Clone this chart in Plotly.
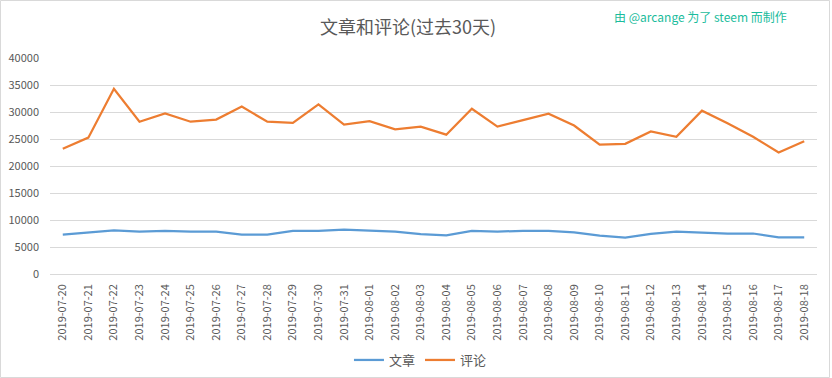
import plotly.graph_objects as go

dates = ["2019-07-20", "2019-07-21", "2019-07-22", "2019-07-23", "2019-07-24", "2019-07-25",
         "2019-07-26", "2019-07-27", "2019-07-28", "2019-07-29", "2019-07-30", "2019-07-31",
         "2019-08-01", "2019-08-02", "2019-08-03", "2019-08-04", "2019-08-05", "2019-08-06",
         "2019-08-07", "2019-08-08", "2019-08-09", "2019-08-10", "2019-08-11", "2019-08-12",
         "2019-08-13", "2019-08-14", "2019-08-15", "2019-08-16", "2019-08-17", "2019-08-18"]

posts = [7300, 7700, 8100, 7850, 8000, 7850, 7850, 7300, 7300, 8000, 8000, 8200,
         8000, 7850, 7400, 7150, 8000, 7850, 8000, 8000, 7700, 7100, 6750, 7450,
         7850, 7700, 7500, 7500, 6800, 6800]

comments = [23200, 25250, 34300, 28200, 29750, 28200, 28600, 31000, 28200, 28000, 31400, 27650,
            28300, 26800, 27300, 25800, 30600, 27300, 28500, 29700, 27500, 23950, 24100, 26400,
            25400, 30250, 27900, 25400, 22500, 24600]

series_names = ["文章", "评论"]
title_text = "文章和评论(过去30天)"
credit_text = "由 @arcange 为了 steem 而制作"

FONT = "Noto Sans CJK SC, Open Sans, sans-serif"

fig = go.Figure()
fig.add_trace(go.Scatter(x=dates, y=posts, name=series_names[0], mode="lines",
                         line=dict(color="#5B9BD5", width=2.25)))
fig.add_trace(go.Scatter(x=dates, y=comments, name=series_names[1], mode="lines",
                         line=dict(color="#ED7D31", width=2.25)))

L, R, T, B = 50, 15, 58, 104
W, H = 832, 378
pw, ph = W - L - R, H - T - B

fig.update_layout(
    width=W, height=H, autosize=False,
    margin=dict(l=L, r=R, t=T, b=B, autoexpand=False),
    paper_bgcolor="white", plot_bgcolor="white",
    font=dict(family=FONT, color="#595959", size=11),
    title=dict(text=title_text, x=408 / W, xanchor="center",
               y=1 - 28 / H, yref="container", yanchor="middle",
               font=dict(size=18, color="#595959", family=FONT)),
    showlegend=True,
    legend=dict(orientation="h", x=0.483, xanchor="center", y=(274 - 360) / ph, yanchor="middle",
                font=dict(size=13, color="#595959", family=FONT), bgcolor="rgba(0,0,0,0)"),
    xaxis=dict(type="category", range=[-0.5, len(dates) - 0.5], tickangle=-90,
               showgrid=False, showline=False, ticks="", automargin=False,
               tickfont=dict(size=11, color="#595959"), ticklabelstandoff=7),
    yaxis=dict(range=[0, 40000], dtick=5000, showgrid=True, gridcolor="#D9D9D9", gridwidth=1,
               zeroline=True, zerolinecolor="#D9D9D9", zerolinewidth=1, showline=False,
               ticks="", tickformat="d", tickfont=dict(size=11, color="#595959"),
               ticklabelstandoff=10, automargin=False),
    annotations=[dict(text=credit_text, xref="paper", yref="paper",
                      x=(789 - L) / pw, xanchor="right", y=(274 - 17) / ph, yanchor="middle",
                      showarrow=False, font=dict(size=12, color="#1ABC9C", family=FONT))],
    shapes=[dict(type="rect", xref="paper", yref="paper",
                 x0=(0.5 - L) / pw, x1=(W - 2.5 - L) / pw,
                 y0=-(H - 0.5 - T - ph) / ph, y1=(H - 0.5 - B) / ph,
                 line=dict(color="#D9D9D9", width=1), layer="below")],
)

fig.write_html("out.html",
               config={"responsive": False, "displayModeBar": False},
               post_script="document.body.style.margin='0';document.body.style.padding='0';")
